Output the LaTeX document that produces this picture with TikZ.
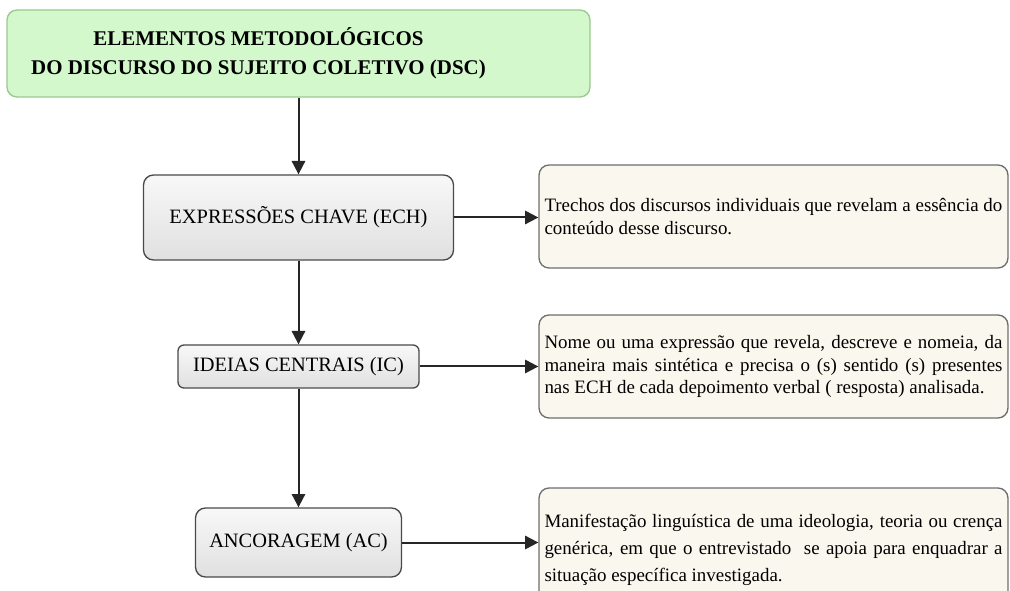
\documentclass[tikz,border=0pt]{standalone}
\usepackage{fontspec}
\setmainfont{Liberation Serif}
\usetikzlibrary{arrows.meta}
\definecolor{verdeclaro}{HTML}{D3F8CB}
\definecolor{verdeborda}{HTML}{9CC78F}
\definecolor{cinzaclaro}{HTML}{F8F8F8}
\definecolor{cinzamedio}{HTML}{E0E0E0}
\definecolor{cinzaborda}{HTML}{4A4A4A}
\definecolor{creme}{HTML}{FAF7EF}
\definecolor{cremeborda}{HTML}{6E6E6E}
\tikzset{
  titulo/.style={draw=verdeborda, fill=verdeclaro, line width=1pt,
    rounded corners=7.5pt, minimum width=437.25pt, minimum height=65.25pt},
  etapa/.style={draw=cinzaborda, top color=cinzaclaro, bottom color=cinzamedio,
    line width=1pt, rounded corners=7.5pt, font=\fontsize{15.3}{18}\selectfont},
  descr/.style={draw=cremeborda, fill=creme, line width=1pt,
    rounded corners=7.5pt, text width=343.5pt, inner xsep=4.1pt, align=justify,
    minimum height=77.25pt, font=\fontsize{14.2}{17}\selectfont},
  seta/.style={-{Triangle[length=10pt,width=10pt]}, line width=1.5pt,
    draw=black!85, fill=black!85},
}
\begin{document}
\begin{tikzpicture}[x=0.75pt,y=-0.75pt]
\useasboundingbox (0,0) rectangle (1010,591);
\clip (0,0) rectangle (1010,591);

% coluna das etapas
\node (dsc) [titulo] at (298.5,53.5) {};
\path (dsc.center)+(-40,0) node (dsctexto) [align=center,
    font=\fontsize{15.7}{22}\selectfont\bfseries]
    {ELEMENTOS METODOL\'OGICOS\\ DO DISCURSO DO SUJEITO COLETIVO (DSC)};

\path (dsc)+(0,164) node (ech) [etapa, minimum width=232.5pt,
    minimum height=63.75pt] {EXPRESSÕES CHAVE (ECH)};
\path (ech)+(0,149) node (ic) [etapa, minimum width=180.75pt,
    minimum height=32.25pt, rounded corners=4.5pt] {IDEIAS CENTRAIS (IC)};
\path (ic)+(0,176) node (ac) [etapa, minimum width=154.5pt,
    minimum height=51.75pt] {ANCORAGEM (AC)};

% coluna das descricoes
\path (ech)+(475,-1) node (trechos) [descr]
    {Trechos dos discursos individuais que revelam a essência do\\
     conteúdo desse discurso.};
\path (ic)+(475,0) node (nome) [descr]
    {Nome ou uma expressão que revela, descreve e nomeia, da\linebreak
     maneira mais sintética e precisa o (s) sentido (s) presentes\linebreak
     nas ECH de cada depoimento verbal ( resposta) analisada.};
\path (ac)+(475,7.5) node (manif) [descr, minimum height=93pt,
    font=\fontsize{14.2}{20.3}\selectfont]
    {Manifestação linguística de uma ideologia, teoria ou crença\linebreak
     genérica, em que o entrevistado \ se apoia para enquadrar a\linebreak
     situação específica investigada.};

\draw [seta] (dsc.south) -- (ech.north);
\draw [seta] (ech.south) -- (ic.north);
\draw [seta] (ic.south) -- (ac.north);
\draw [seta] (ech.east) -- (ech.east -| trechos.west);
\draw [seta] (ic.east) -- (nome.west);
\draw [seta] (ac.east) -- (ac.east -| manif.west);
\end{tikzpicture}
\end{document}
